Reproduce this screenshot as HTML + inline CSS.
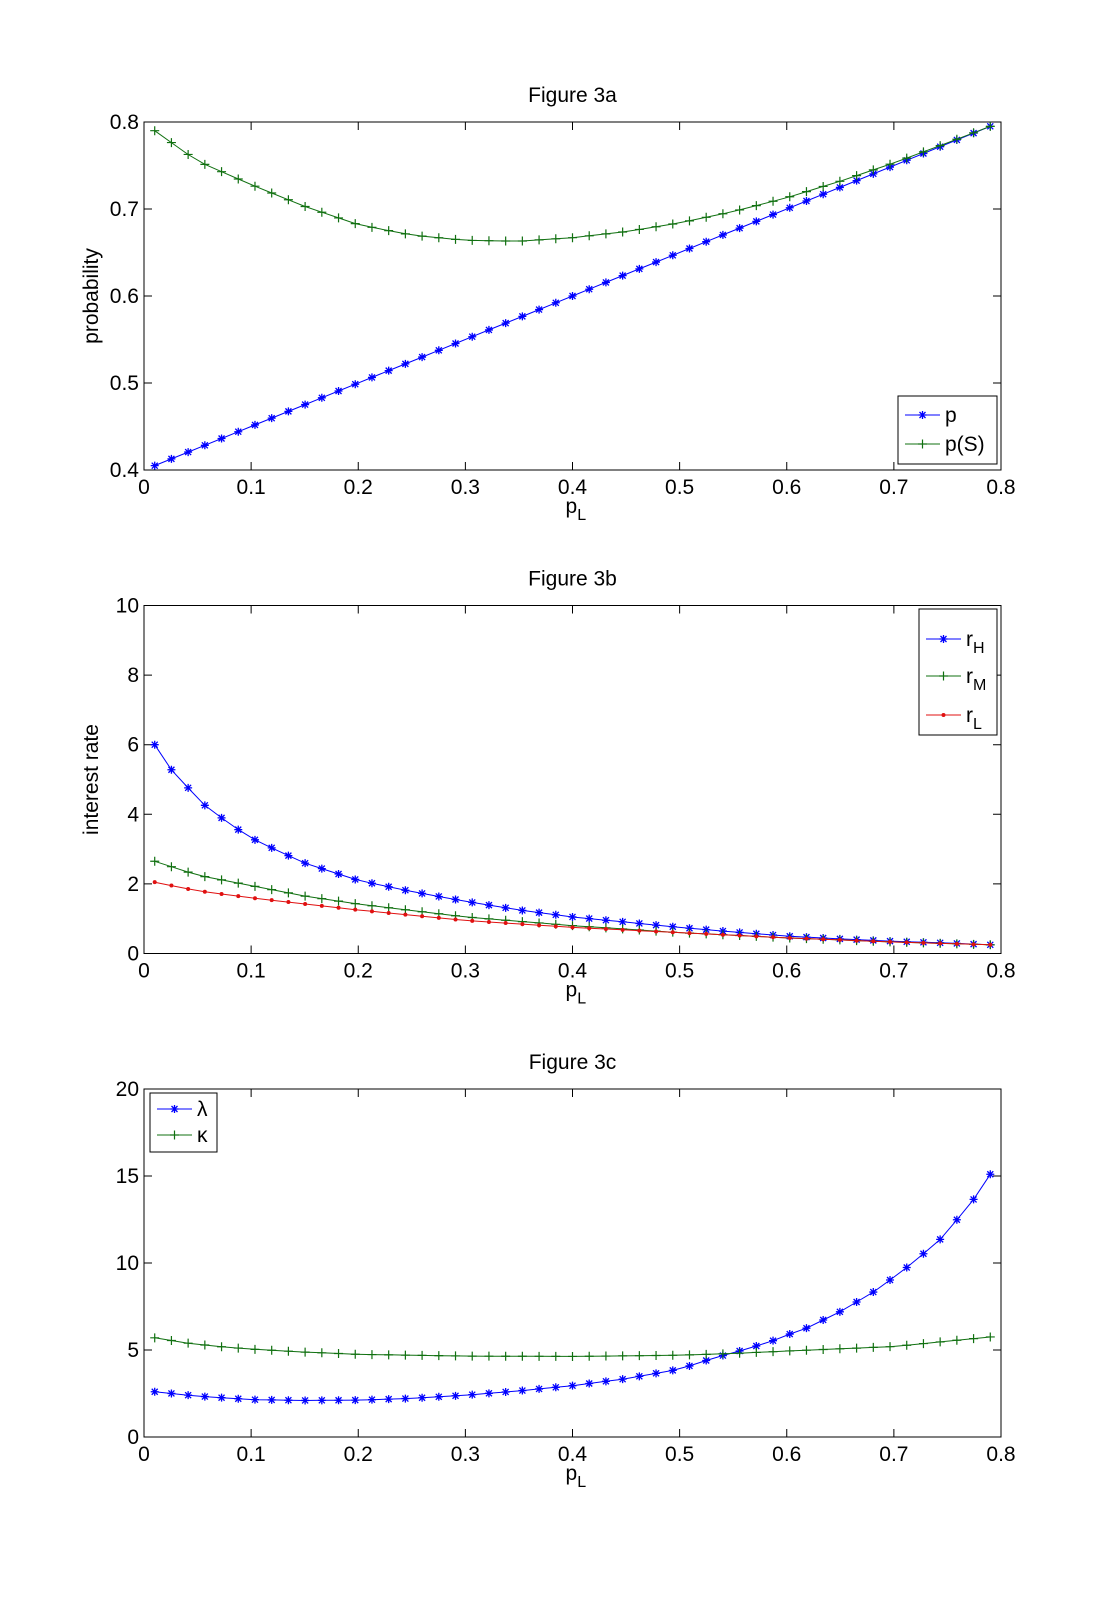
<!DOCTYPE html>
<html><head><meta charset="utf-8">
<style>
html,body{margin:0;padding:0;background:#fff;}
svg{display:block;font-family:"Liberation Sans",sans-serif;}
</style></head>
<body>
<svg id="s" width="1106" height="1615" xmlns="http://www.w3.org/2000/svg"></svg>
<script>
const S=document.getElementById('s');
let out='';
const X0=144,X1=1001,W=X1-X0,H=348;
function interp(a,x){for(let i=0;i<a.length-1;i++){if(x<=a[i+1][0]){const t=(x-a[i][0])/(a[i+1][0]-a[i][0]);return a[i][1]+t*(a[i+1][1]-a[i][1]);}}return a[a.length-1][1];}
function sx(x){return X0+x/0.8*W;}
function marker(type,x,y,c){
  if(type==='star'){return `<path d="M${x-4},${y}h8M${x},${y-4}v8M${x-3},${y-3}l6,6M${x-3},${y+3}l6,-6" stroke="${c}" stroke-width="1.3"/>`;}
  if(type==='plus'){return `<path d="M${x-4.5},${y}h9M${x},${y-4.5}v9" stroke="${c}" stroke-width="1.2"/>`;}
  return `<circle cx="${x}" cy="${y}" r="2" fill="${c}"/>`;
}
function panel(top,ymin,ymax,yticks,ylabels,title,ylabel,series){
  const sy=v=>top+H-(v-ymin)/(ymax-ymin)*H;
  let g='';
  g+=`<rect x="${X0}" y="${top}" width="${W}" height="${H}" fill="none" stroke="#000" stroke-width="1"/>`;
  for(let i=0;i<=8;i++){const x=sx(i*0.1);
    g+=`<path d="M${x},${top+H}v-8M${x},${top}v8" stroke="#000"/>`;
    g+=`<text x="${x}" y="${top+H+24}" font-size="21" text-anchor="middle">${i==0?'0':(i/10).toString()}</text>`;}
  yticks.forEach((v,i)=>{const y=sy(v);
    g+=`<path d="M${X0},${y}h8M${X1},${y}h-8" stroke="#000"/>`;
    g+=`<text x="${X0-5}" y="${y+7}" font-size="21" text-anchor="end">${ylabels[i]}</text>`;});
  g+=`<text x="${(X0+X1)/2}" y="${top-20}" font-size="21" text-anchor="middle">${title}</text>`;
  g+=`<text x="${(X0+X1)/2-7}" y="${top+H+43}" font-size="21">p<tspan font-size="16" dy="7">L</tspan></text>`;
  g+=`<text transform="translate(98,${top+H/2}) rotate(-90)" font-size="21" text-anchor="middle">${ylabel}</text>`;
  const N=50;
  series.forEach(s=>{
    let pts=[];for(let i=0;i<=N;i++){const x=0.01+0.78*i/N;pts.push([sx(x),sy(s.f(x))]);}
    g+=`<polyline fill="none" stroke="${s.c}" stroke-width="1" points="${pts.map(p=>p[0].toFixed(1)+','+p[1].toFixed(1)).join(' ')}"/>`;
    pts.forEach(p=>g+=marker(s.m,p[0],p[1],s.c));
  });
  return g;
}
const B='#0000ff',G='#107010',R='#e01010';
const pS=[[0.01,0.79],[0.05,0.755],[0.1,0.728],[0.15,0.703],[0.2,0.682],[0.25,0.670],[0.3,0.664],[0.35,0.663],[0.4,0.667],[0.45,0.674],[0.5,0.684],[0.55,0.697],[0.6,0.713],[0.65,0.732],[0.7,0.753],[0.75,0.776],[0.79,0.795]];
out+=panel(122,0.4,0.8,[0.4,0.5,0.6,0.7,0.8],['0.4','0.5','0.6','0.7','0.8'],'Figure 3a','probability',
 [{f:x=>0.4+0.5*x,c:B,m:'star'},{f:x=>interp(pS,x),c:G,m:'plus'}]);
const rH=[[0.01,6],[0.025,5.3],[0.04,4.8],[0.055,4.3],[0.07,3.95],[0.085,3.62],[0.1,3.32],[0.125,2.95],[0.15,2.6],[0.2,2.1],[0.25,1.78],[0.3,1.5],[0.35,1.25],[0.4,1.05],[0.45,0.9],[0.5,0.75],[0.55,0.62],[0.6,0.5],[0.65,0.42],[0.7,0.35],[0.75,0.3],[0.79,0.25]];
const rM=[[0.01,2.65],[0.03,2.45],[0.05,2.25],[0.1,1.95],[0.15,1.65],[0.2,1.42],[0.3,1.05],[0.4,0.8],[0.5,0.6],[0.6,0.45],[0.7,0.33],[0.79,0.25]];
const rL=[[0.01,2.05],[0.05,1.8],[0.1,1.6],[0.2,1.25],[0.3,0.95],[0.4,0.75],[0.5,0.6],[0.6,0.45],[0.7,0.33],[0.79,0.25]];
out+=panel(605.5,0,10,[0,2,4,6,8,10],['0','2','4','6','8','10'],'Figure 3b','interest rate',
 [{f:x=>interp(rH,x),c:B,m:'star'},{f:x=>interp(rM,x),c:G,m:'plus'},{f:x=>interp(rL,x),c:R,m:'dot'}]);
const lam=[[0.01,2.6],[0.05,2.35],[0.1,2.15],[0.15,2.1],[0.2,2.12],[0.25,2.22],[0.3,2.4],[0.35,2.65],[0.4,2.95],[0.45,3.35],[0.5,3.9],[0.534,4.58],[0.551,4.85],[0.567,5.15],[0.583,5.43],[0.6,5.86],[0.616,6.18],[0.631,6.64],[0.647,7.1],[0.663,7.68],[0.679,8.25],[0.695,8.96],[0.711,9.69],[0.727,10.5],[0.744,11.4],[0.759,12.5],[0.775,13.7],[0.79,15.1]];
const kap=[[0.01,5.7],[0.04,5.4],[0.07,5.2],[0.1,5.05],[0.15,4.88],[0.2,4.75],[0.3,4.65],[0.4,4.63],[0.5,4.7],[0.55,4.8],[0.6,4.94],[0.7,5.2],[0.79,5.75]];
out+=panel(1089,0,20,[0,5,10,15,20],['0','5','10','15','20'],'Figure 3c','',
 [{f:x=>interp(lam,x),c:B,m:'star'},{f:x=>interp(kap,x),c:G,m:'plus'}]);
function legend(x,y,w,h,items){
  let g=`<rect x="${x}" y="${y}" width="${w}" height="${h}" fill="#fff" stroke="#000"/>`;
  items.forEach((it,i)=>{const yy=y+it.dy;
    g+=`<path d="M${x+7},${yy}h35" stroke="${it.c}"/>`+marker(it.m,x+24.5,yy,it.c);
    g+=`<text x="${x+47}" y="${yy+7}" font-size="21">${it.t}</text>`;});
  return g;
}
out+=legend(898,396,99,68,[{dy:19,c:B,m:'star',t:'p'},{dy:48,c:G,m:'plus',t:'p(S)'}]);
out+=legend(919,609,78,126,[{dy:30,c:B,m:'star',t:'r<tspan font-size="16" dy="7">H</tspan>'},{dy:67,c:G,m:'plus',t:'r<tspan font-size="16" dy="7">M</tspan>'},{dy:106,c:R,m:'dot',t:'r<tspan font-size="16" dy="7">L</tspan>'}]);
out+=legend(150,1093,67,59,[{dy:16,c:B,m:'star',t:'λ'},{dy:42,c:G,m:'plus',t:'κ'}]);
S.innerHTML=out;
</script>
</body></html>
